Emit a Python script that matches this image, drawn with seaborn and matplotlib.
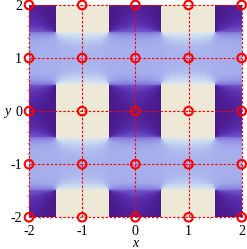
import numpy as np
import matplotlib
matplotlib.use("Agg")
import matplotlib.pyplot as plt
from matplotlib.colors import LinearSegmentedColormap
import seaborn as sns

# ---- data ----
x_ticks = [-2, -1, 0, 1, 2]
y_ticks = [-2, -1, 0, 1, 2]
tick_labels = ["-2", "-1", "0", "1", "2"]
lattice_x = [-2, -1, 0, 1, 2]
lattice_y = [-2, -1, 0, 1, 2]
x_range = (-2.0, 2.0)
y_range = (-2.0, 2.0)
n_cells = 220
# density levels: dark square, beige square, band middle, band swing
level_dark = 0.0
level_light = 1.0
level_band = 0.52
swing_dark_side = 0.22
swing_light_side = 0.36
decay_dark_side = 0.09
decay_light_side = 0.16
dark_fan = 0.25

cmap = LinearSegmentedColormap.from_list("m10", [
    (0.00, "#4A1A8C"),
    (0.15, "#5A2FB0"),
    (0.30, "#7D6FD8"),
    (0.50, "#A3ABEC"),
    (0.70, "#C5D8F0"),
    (0.85, "#DDE6EA"),
    (1.00, "#EEE8D6"),
])

# ---- density field ----
xs = np.linspace(x_range[0], x_range[1], n_cells)
ys = np.linspace(y_range[1], y_range[0], n_cells)  # top row = y max
X, Y = np.meshgrid(xs, ys)
dx = np.abs(X - 2 * np.round(X / 2))
dy = np.abs(Y - 2 * np.round(Y / 2))
V = np.empty_like(X)
in_sq = dy < 0.5
dark = in_sq & (dx < 0.5)
light = in_sq & (dx >= 0.5)
a = 0.5 - dx
b = 0.5 - dy
phi = np.arctan2(a, np.maximum(b, 1e-9)) / (np.pi / 2)
V[dark] = level_dark + dark_fan * phi[dark] ** 2
V[light] = level_light
band = ~in_sq
t = dy - 0.5
h = dx - 0.5
psi = np.arctan2(h, np.maximum(t, 1e-9))
sp = np.sin(psi)
amp = np.where(sp < 0,
               swing_dark_side * np.exp(-t / decay_dark_side),
               swing_light_side * np.exp(-t / decay_light_side))
V[band] = (level_band + amp * sp)[band]

plt.rcParams["font.family"] = ["Liberation Serif", "DejaVu Serif"]
fig = plt.figure(figsize=(2.47, 2.49), dpi=100)
pos = [29 / 247, 1 - 217.3 / 249, (241.7 - 29) / 247, (217.3 - 5) / 249]
ax_img = fig.add_axes(pos)
sns.heatmap(V, ax=ax_img, cmap=cmap, vmin=0, vmax=1, cbar=False,
            xticklabels=False, yticklabels=False, rasterized=True)
ax_img.axis("off")

ax = fig.add_axes(pos, facecolor="none")
ax.set_xlim(*x_range)
ax.set_ylim(*y_range)
for v in x_ticks:
    ax.axvline(v, color="red", lw=0.8, ls=(0, (2.2, 1.6)), zorder=3, clip_on=False)
for v in y_ticks:
    ax.axhline(v, color="red", lw=0.8, ls=(0, (2.2, 1.6)), zorder=3, clip_on=False)
LX, LY = np.meshgrid(lattice_x, lattice_y)
sns.scatterplot(x=LX.ravel(), y=LY.ravel(), ax=ax, marker="o", s=38,
                facecolors="none", edgecolors="red", linewidth=1.5,
                zorder=5, clip_on=False, legend=False)
for s in ax.spines.values():
    s.set_visible(False)
ax.set_xticks(x_ticks)
ax.set_xticklabels(tick_labels)
ax.set_yticks(y_ticks)
ax.set_yticklabels(tick_labels)
ax.set_xticks(np.arange(-2, 2.01, 0.2), minor=True)
ax.set_yticks(np.arange(-2, 2.01, 0.2), minor=True)
ax.tick_params(which="major", length=0, labelsize=10, pad=5.5)
ax.tick_params(axis="y", which="major", pad=5)
ax.tick_params(which="minor", length=1.2, width=0.6, color="#999999", direction="out", pad=3)
ax.set_xlabel("x", fontstyle="italic", fontsize=10, labelpad=-1)
ax.set_ylabel("y", fontstyle="italic", fontsize=10, rotation=0, labelpad=2, va="center")
fig.savefig("out.png", dpi=100)
